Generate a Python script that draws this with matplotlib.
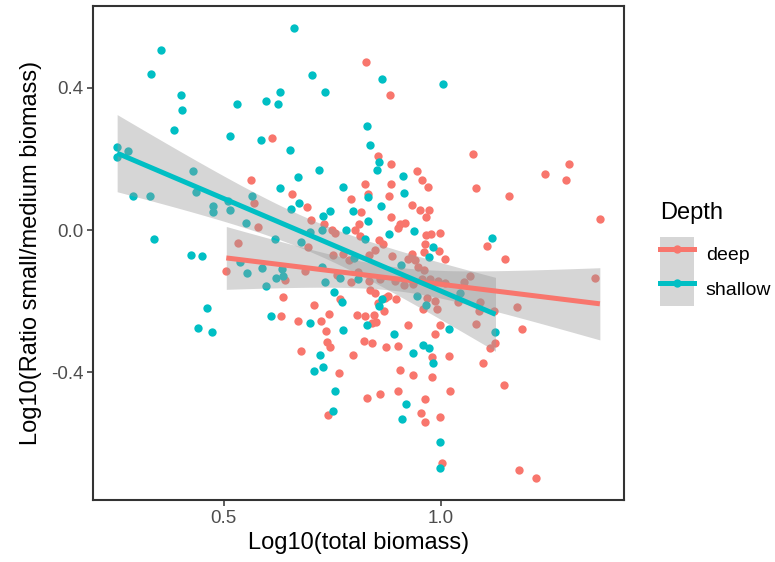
import numpy as np
import matplotlib
matplotlib.use("Agg")
import matplotlib.pyplot as plt
from matplotlib.lines import Line2D
from matplotlib.patches import Patch
from matplotlib.legend_handler import HandlerTuple

plt.rcParams['font.family'] = ['Liberation Sans', 'DejaVu Sans']

# log10 total biomass / log10 ratio small:medium, deep sites
deep_x = [0.612, 0.827, 0.882, 0.855, 0.885, 0.944, 1.073, 1.294, 1.239, 0.562,
          0.570, 0.580, 0.534, 0.506, 0.956, 0.969, 0.825, 0.884, 0.831, 0.880,
          0.658, 0.793, 0.692, 0.933, 0.952, 0.815, 0.971, 0.884, 0.965, 0.701,
          0.905, 0.917, 0.730, 0.810, 0.748, 0.803, 0.901, 0.755, 0.813, 0.977,
          0.998, 0.966, 0.856, 0.866, 0.849, 0.694, 0.963, 0.961, 0.994, 0.934,
          0.924, 0.941, 1.009, 0.752, 0.774, 0.789, 0.833, 0.887, 0.946, 0.961,
          0.808, 0.688, 0.761, 0.642, 0.792, 0.835, 0.860, 0.893, 0.915, 0.936,
          0.956, 0.975, 0.992, 1.009, 0.837, 0.849, 0.877, 0.897, 0.636, 0.707,
          0.767, 0.854, 0.868, 0.872, 0.967, 0.986, 0.990, 0.958, 0.631, 0.742,
          0.724, 0.670, 0.807, 0.826, 0.845, 0.850, 0.841, 0.924, 0.998, 0.736,
          0.986, 0.738, 0.744, 0.677, 0.822, 0.841, 0.874, 0.900, 0.797, 0.980,
          1.018, 0.766, 0.906, 0.936, 0.979, 0.830, 0.859, 0.901, 1.021, 0.963,
          0.740, 0.954, 0.963, 0.997, 1.002, 1.112, 1.125, 1.096, 1.144, 1.178,
          1.218, 1.287, 1.081, 1.156, 1.365, 1.105, 1.148, 1.353, 1.067, 1.053,
          1.039, 1.089, 1.087, 1.122, 1.174, 1.080, 1.186]
deep_y = [0.260, 0.473, 0.380, 0.207, 0.185, 0.167, 0.213, 0.186, 0.158, 0.141,
          0.075, 0.009, -0.037, -0.116, 0.141, 0.121, 0.130, 0.130, 0.102, 0.097,
          0.101, 0.088, 0.066, 0.071, 0.057, 0.050, 0.057, 0.036, 0.036, 0.029,
          0.017, 0.020, 0.018, 0.017, 0.001, 0.001, 0.005, -0.008, -0.016, -0.011,
          -0.008, -0.015, -0.029, -0.038, -0.055, -0.048, -0.038, -0.061, -0.059, -0.068,
          -0.080, -0.083, -0.081, -0.069, -0.067, -0.083, -0.069, -0.073, -0.103, -0.111,
          -0.117, -0.115, -0.125, -0.141, -0.146, -0.143, -0.139, -0.143, -0.155, -0.153,
          -0.139, -0.137, -0.143, -0.148, -0.169, -0.176, -0.185, -0.193, -0.189, -0.211,
          -0.195, -0.204, -0.229, -0.190, -0.190, -0.199, -0.221, -0.223, -0.243, -0.235,
          -0.255, -0.257, -0.239, -0.241, -0.239, -0.258, -0.262, -0.266, -0.266, -0.283,
          -0.291, -0.316, -0.328, -0.339, -0.311, -0.319, -0.328, -0.326, -0.351, -0.358,
          -0.354, -0.403, -0.394, -0.407, -0.414, -0.472, -0.461, -0.453, -0.453, -0.475,
          -0.519, -0.515, -0.539, -0.527, -0.654, -0.332, -0.319, -0.374, -0.435, -0.676,
          -0.696, 0.141, 0.117, 0.095, 0.032, -0.045, -0.081, -0.134, -0.130, -0.146,
          -0.202, -0.202, -0.228, -0.227, -0.216, -0.264, -0.279]

# shallow sites
shallow_x = [0.355, 0.333, 0.401, 0.404, 0.385, 0.531, 0.598, 0.514, 0.586, 0.255,
             0.279, 0.255, 0.430, 0.661, 0.702, 0.865, 1.004, 0.629, 0.734, 0.625,
             0.830, 0.836, 0.652, 0.856, 0.719, 0.853, 0.912, 0.671, 0.292, 0.331,
             0.437, 0.564, 0.475, 0.475, 0.514, 0.510, 0.551, 0.339, 0.424, 0.450,
             0.537, 0.553, 0.588, 0.598, 0.462, 0.608, 0.441, 0.472, 0.629, 0.775,
             0.831, 0.914, 0.674, 0.654, 0.862, 0.745, 0.798, 0.728, 0.832, 0.782,
             0.937, 0.698, 0.726, 0.826, 0.880, 0.618, 0.677, 0.981, 0.973, 0.800,
             0.907, 0.725, 0.633, 0.620, 0.637, 0.768, 0.732, 0.808, 0.753, 0.771,
             0.865, 0.858, 0.944, 0.966, 0.698, 0.830, 0.775, 0.892, 1.019, 0.959,
             0.973, 0.721, 0.935, 0.982, 0.707, 0.729, 0.756, 0.919, 0.752, 0.909,
             0.997, 0.997, 1.125, 1.117, 1.044]
shallow_y = [0.506, 0.440, 0.379, 0.338, 0.282, 0.354, 0.362, 0.264, 0.253, 0.233,
             0.221, 0.206, 0.167, 0.567, 0.436, 0.426, 0.410, 0.387, 0.388, 0.354,
             0.294, 0.240, 0.225, 0.191, 0.169, 0.169, 0.153, 0.150, 0.097, 0.097,
             0.108, 0.095, 0.069, 0.050, 0.057, 0.081, 0.021, -0.026, -0.071, -0.072,
             -0.091, -0.120, -0.108, -0.156, -0.219, -0.241, -0.275, -0.288, 0.118, 0.121,
             0.093, 0.105, 0.076, 0.060, 0.067, 0.053, 0.055, 0.039, 0.026, 0.001,
             -0.004, -0.005, -0.001, -0.024, -0.010, -0.025, -0.034, -0.048, -0.075, -0.079,
             -0.097, -0.103, -0.109, -0.134, -0.129, -0.134, -0.146, -0.139, -0.173, -0.201,
             -0.195, -0.213, -0.185, -0.211, -0.262, -0.267, -0.282, -0.291, -0.279, -0.324,
             -0.332, -0.352, -0.347, -0.373, -0.396, -0.384, -0.453, -0.489, -0.510, -0.531,
             -0.597, -0.670, -0.287, -0.022, -0.176]

groups = ["deep", "shallow"]
colors = {"deep": "#F8766D", "shallow": "#00BFC4"}
data = {"deep": (np.array(deep_x), np.array(deep_y)),
        "shallow": (np.array(shallow_x), np.array(shallow_y))}


def lm_fit(x, y):
    # linear fit with 95% confidence band, like geom_smooth(method="lm")
    n = len(x)
    b1, b0 = np.polyfit(x, y, 1)
    xs = np.linspace(x.min(), x.max(), 80)
    yh = b0 + b1 * xs
    res = y - (b0 + b1 * x)
    s = np.sqrt(np.sum(res ** 2) / (n - 2))
    se = s * np.sqrt(1.0 / n + (xs - x.mean()) ** 2 / np.sum((x - x.mean()) ** 2))
    return xs, yh, 1.98 * se


fig = plt.figure(figsize=(7.75, 5.62), dpi=100)
ax = fig.add_axes([93 / 775, 62 / 562, 531 / 775, 494 / 562])

for g in groups:
    x, y = data[g]
    ax.scatter(x, y, s=36, color=colors[g], linewidths=0, zorder=2)

fits = {g: lm_fit(*data[g]) for g in groups}
for g in groups:
    xs, yh, ci = fits[g]
    ax.fill_between(xs, yh - ci, yh + ci, color="#999999", alpha=0.4, linewidth=0, zorder=3)
for g in groups:
    xs, yh, ci = fits[g]
    ax.plot(xs, yh, color=colors[g], lw=3.6, zorder=4, solid_capstyle="butt")

allx = np.concatenate([deep_x, shallow_x])
ally = np.concatenate([deep_y, shallow_y])
dx = (allx.max() - allx.min()) * 0.05
dy = (ally.max() - ally.min()) * 0.05
ax.set_xlim(allx.min() - dx, allx.max() + dx)
ax.set_ylim(ally.min() - dy, ally.max() + dy)
ax.set_xticks([0.5, 1.0])
ax.set_xticklabels(["0.5", "1.0"])
ax.set_yticks([-0.4, 0.0, 0.4])
ax.set_yticklabels(["-0.4", "0.0", "0.4"])

for sp in ax.spines.values():
    sp.set_color("#333333")
    sp.set_linewidth(1.5)
ax.tick_params(length=4, width=1.1, color="#333333", labelcolor="#4D4D4D",
               labelsize=13.5, pad=3)
ax.set_xlabel("Log10(total biomass)", fontsize=17, color="black", labelpad=4)
ax.set_ylabel("Log10(Ratio small/medium biomass)", fontsize=17, color="black", labelpad=6)

# legend: title placed on its own, keys below
fig.text(660 / 775, 1 - 213 / 562, "Depth", fontsize=17, va="center", ha="left")
handles = []
for g in groups:
    bg = Patch(facecolor="#999999", alpha=0.4, edgecolor="none")
    ln = Line2D([], [], color=colors[g], lw=3.6, marker="o", markersize=6, markeredgewidth=0)
    handles.append((bg, ln))
leg = fig.legend(handles, groups, handler_map={tuple: HandlerTuple(ndivide=1, pad=0)},
                 loc="upper left", bbox_to_anchor=(660 / 775, 1 - 237 / 562),
                 frameon=False, fontsize=14,
                 handlelength=1.75, handleheight=2.35, labelspacing=0.0,
                 handletextpad=0.6, borderpad=0, borderaxespad=0)

fig.savefig("out.png", dpi=100)
